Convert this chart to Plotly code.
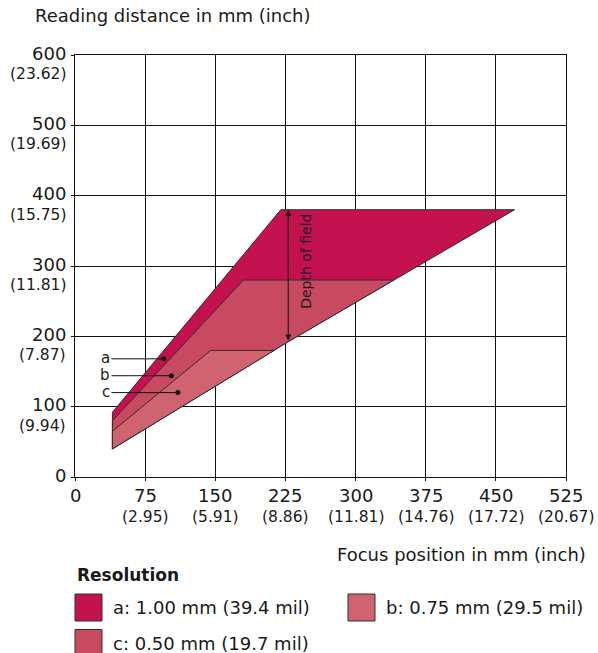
import plotly.graph_objects as go

# Axis ticks: millimetres with inch equivalents
x_ticks = [0, 75, 150, 225, 300, 375, 450, 525]
x_inch = ["", "(2.95)", "(5.91)", "(8.86)", "(11.81)", "(14.76)", "(17.72)", "(20.67)"]
y_ticks = [0, 100, 200, 300, 400, 500, 600]
y_inch = ["", "(9.94)", "(7.87)", "(11.81)", "(15.75)", "(19.69)", "(23.62)"]

# Common lower boundary of the reading fields
lower_x = [40, 225, 470]
lower_y = [40, 190, 380]

# Upper boundaries per resolution (left side -> top plateau)
a_x = [40, 40, 220, 470]
a_y = [40, 92, 380, 380]
b_x = [40, 40, 180, 341]
b_y = [40, 80, 280, 280]
c_x = [40, 40, 145, 213]
c_y = [40, 65, 180, 180]

col_a = "#C41150"
col_b = "#C84A60"
col_c = "#D06370"
edge = "#3a2a2e"

FONT = "DejaVu Sans"
TXT = "#1a1a1a"

fig = go.Figure()


def field(xs, ys, color):
    # close the polygon back along the lower boundary
    px = list(xs)
    py = list(ys)
    top_y = ys[-1]
    for lx, ly in reversed(list(zip(lower_x, lower_y))):
        if ly < top_y and lx > xs[0]:
            px.append(lx)
            py.append(ly)
    px.append(xs[0])
    py.append(ys[0])
    fig.add_trace(go.Scatter(x=px, y=py, mode="lines", fill="toself",
                             fillcolor=color, line=dict(color=edge, width=1),
                             hoverinfo="skip", showlegend=False))


field(a_x, a_y, col_a)
field(b_x, b_y, col_b)
field(c_x, c_y, col_c)

# Pointer labels a, b, c
lab_names = ["a", "b", "c"]
lab_dot_x = [95, 103, 110]
lab_dot_y = [168, 144, 120]
lab_start_x = 39
for n, dx, dy in zip(lab_names, lab_dot_x, lab_dot_y):
    fig.add_trace(go.Scatter(x=[lab_start_x, dx], y=[dy, dy], mode="lines",
                             line=dict(color="#111", width=1),
                             hoverinfo="skip", showlegend=False))
    fig.add_trace(go.Scatter(x=[dx], y=[dy], mode="markers",
                             marker=dict(color="#111", size=5),
                             hoverinfo="skip", showlegend=False))
    fig.add_annotation(x=lab_start_x, y=dy, text=n, showarrow=False,
                       xanchor="right", yanchor="middle", xshift=0, yshift=1,
                       borderpad=0,
                       font=dict(family=FONT, size=15, color=TXT))

# Depth of field double arrow
dof_x = 228
dof_top = 380
dof_bottom = 192
fig.add_annotation(x=dof_x, y=dof_top, ax=dof_x, ay=dof_bottom,
                   xref="x", yref="y", axref="x", ayref="y",
                   text="", showarrow=True, arrowside="end+start",
                   arrowhead=2, arrowsize=1.2, arrowwidth=1, arrowcolor="#111")
fig.add_annotation(x=247, y=306, text="Depth of field", textangle=-90,
                   showarrow=False, xanchor="center", yanchor="middle",
                   font=dict(family=FONT, size=14, color=TXT))

# Tick labels (mm + inch)
for v, inch in zip(y_ticks, y_inch):
    fig.add_annotation(xref="paper", x=0, y=v, text=str(v), showarrow=False,
                       xanchor="right", yanchor="middle", xshift=-7, yshift=2,
                       font=dict(family=FONT, size=18, color=TXT))
    if inch:
        fig.add_annotation(xref="paper", x=0, y=v, text=inch, showarrow=False,
                           xanchor="right", yanchor="middle", xshift=-7, yshift=-19,
                           font=dict(family=FONT, size=15.5, color=TXT))
for v, inch in zip(x_ticks, x_inch):
    fig.add_annotation(x=v, yref="paper", y=0, text=str(v), showarrow=False,
                       xanchor="center", yanchor="middle", yshift=-18,
                       font=dict(family=FONT, size=18, color=TXT))
    if inch:
        fig.add_annotation(x=v, yref="paper", y=0, text=inch, showarrow=False,
                           xanchor="center", yanchor="middle", yshift=-40,
                           font=dict(family=FONT, size=15.5, color=TXT))

# Axis titles
fig.add_annotation(xref="paper", yref="paper", x=0, xshift=-42, y=1.0, yshift=40,
                   text="Reading distance in mm (inch)", showarrow=False,
                   xanchor="left", yanchor="middle",
                   font=dict(family=FONT, size=18, color=TXT))
fig.add_annotation(xref="paper", yref="paper", x=1.0, y=0, xshift=22, yshift=-77,
                   text="Focus position in mm (inch)", showarrow=False,
                   xanchor="right", yanchor="middle",
                   font=dict(family=FONT, size=18, color=TXT))

# Legend
fig.add_annotation(xref="paper", yref="paper", x=0, y=0, yshift=-98,
                   text="<b>Resolution</b>", showarrow=False,
                   xanchor="left", yanchor="middle",
                   font=dict(family=FONT, size=17, color=TXT))
leg_items = [
    ("a: 1.00 mm (39.4 mil)", col_a, 75, 607.5),
    ("b: 0.75 mm (29.5 mil)", col_c, 348, 607.5),
    ("c: 0.50 mm (19.7 mil)", col_b, 75, 643),
]
for text, color, px, py in leg_items:
    fig.add_shape(type="rect", xref="paper", yref="paper",
                  x0=(px - 75) / 491, x1=(px - 75 + 27) / 491,
                  y0=(477 - (py + 13.5)) / 422, y1=(477 - (py - 13.5)) / 422,
                  fillcolor=color, line=dict(color=edge, width=1))
    fig.add_annotation(xref="paper", yref="paper",
                       x=(px - 75 + 36) / 491, y=(477 - py) / 422,
                       text=text, showarrow=False, xanchor="left", yanchor="middle",
                       font=dict(family=FONT, size=18, color=TXT))

fig.update_xaxes(range=[0, 525], tickvals=x_ticks, showticklabels=False,
                 showgrid=True, gridcolor="#111", gridwidth=1,
                 showline=True, linecolor="#111", linewidth=1, mirror=True,
                 zeroline=False, ticks="outside", ticklen=3, tickcolor="#111")
fig.update_yaxes(range=[0, 600], tickvals=y_ticks, showticklabels=False,
                 showgrid=True, gridcolor="#111", gridwidth=1,
                 showline=True, linecolor="#111", linewidth=1, mirror=True,
                 zeroline=False, ticks="outside", ticklen=3, tickcolor="#111")

fig.update_layout(width=598, height=653,
                  margin=dict(l=75, r=32, t=55, b=176),
                  plot_bgcolor="white", paper_bgcolor="white",
                  showlegend=False, font=dict(family=FONT))

fig.write_html("out.html")
